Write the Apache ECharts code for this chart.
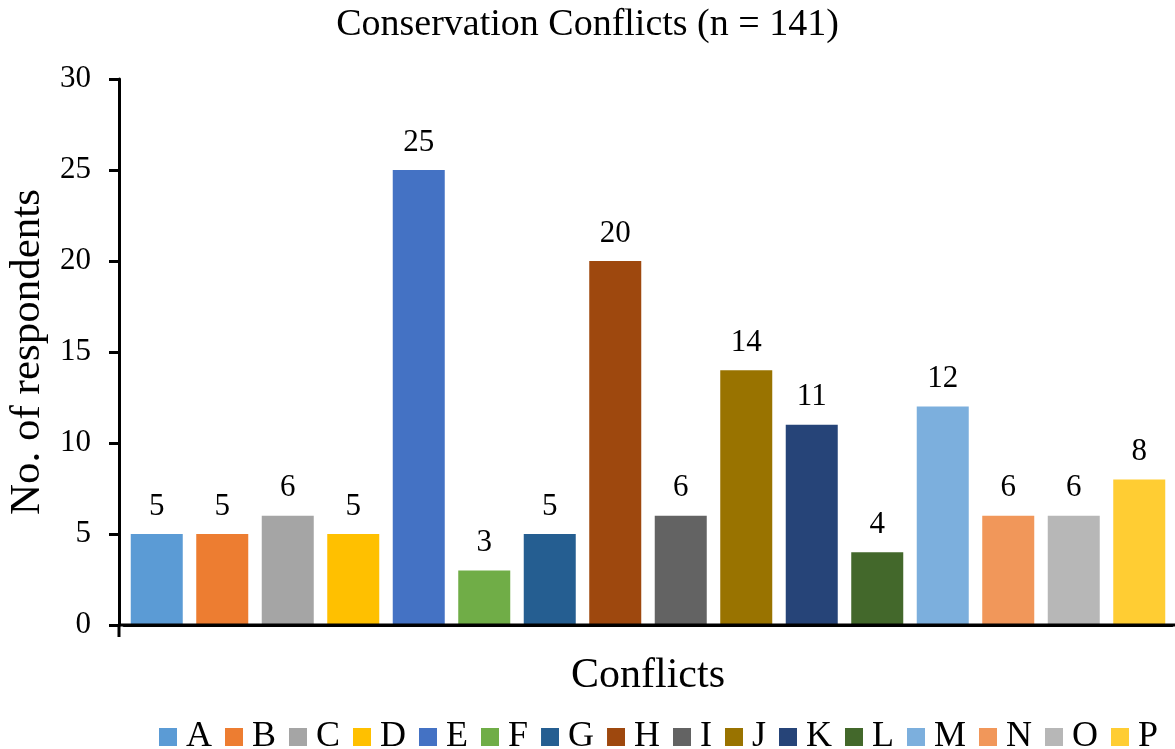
<!DOCTYPE html>
<html>
<head>
<meta charset="utf-8">
<script src="https://cdn.jsdelivr.net/npm/echarts@6/dist/echarts.min.js"></script>
<style>
  html, body { margin: 0; padding: 0; background: #fff; }
  #chart { width: 1175px; height: 749px; }
</style>
</head>
<body>
<div id="chart"></div>
<script>
// Conflict categories and the number of respondents citing each
const categories = ['A', 'B', 'C', 'D', 'E', 'F', 'G', 'H', 'I', 'J', 'K', 'L', 'M', 'N', 'O', 'P'];
const respondents = [5, 5, 6, 5, 25, 3, 5, 20, 6, 14, 11, 4, 12, 6, 6, 8];
const barColors = [
  '#5B9BD5', '#ED7D31', '#A5A5A5', '#FFC000', '#4472C4', '#70AD47', '#255E91', '#9E480E',
  '#636363', '#997300', '#264478', '#43682B', '#7CAFDD', '#F1975A', '#B7B7B7', '#FFCD33'
];
const yTicks = [0, 5, 10, 15, 20, 25, 30];

const serif = '"Liberation Serif", "Times New Roman", serif';

// One series per conflict so each gets its own legend entry; a shared stack keeps them in one slot per category
const series = categories.map((name, i) => ({
  name: name,
  type: 'bar',
  stack: 'all',
  barCategoryGap: '20.6%',
  itemStyle: { color: barColors[i] },
  label: {
    show: true,
    position: 'top',
    distance: 12,
    fontFamily: serif,
    fontSize: 31,
    color: '#000'
  },
  data: categories.map((c, j) => (j === i ? respondents[i] : null))
}));

const chart = echarts.init(document.getElementById('chart'), null, { renderer: 'canvas' });

chart.setOption({
  animation: false,
  backgroundColor: '#fff',
  textStyle: { fontFamily: serif, color: '#000' },
  title: {
    text: 'Conservation Conflicts (n = 141)',
    left: 'center',
    top: 1,
    textStyle: { fontFamily: serif, fontSize: 38, fontWeight: 'normal', color: '#000' }
  },
  legend: {
    top: 719,
    left: 159,
    padding: 0,
    itemWidth: 18,
    itemHeight: 18,
    itemGap: 13,
    icon: 'rect',
    textStyle: { fontFamily: serif, fontSize: 36, color: '#000', padding: [0, 0, 0, 4] },
    data: categories
  },
  grid: { left: 124, right: 3, top: 79, bottom: 124, containLabel: false, outerBoundsMode: 'none' },
  xAxis: {
    type: 'category',
    data: categories,
    name: 'Conflicts',
    nameLocation: 'middle',
    nameGap: 30,
    nameTextStyle: { fontFamily: serif, fontSize: 42, color: '#000' },
    axisLine: { show: true, lineStyle: { color: '#000', width: 3 } },
    axisTick: { show: false },
    axisLabel: { show: false },
    splitLine: { show: false }
  },
  yAxis: {
    type: 'value',
    min: yTicks[0],
    max: yTicks[yTicks.length - 1],
    interval: 5,
    offset: 5,
    name: 'No. of respondents',
    nameLocation: 'middle',
    nameGap: 67,
    nameTextStyle: { fontFamily: serif, fontSize: 43, color: '#000' },
    axisLine: { show: true, lineStyle: { color: '#000', width: 3 } },
    axisTick: { show: true, inside: false, length: 10, lineStyle: { color: '#000', width: 3 } },
    axisLabel: { fontFamily: serif, fontSize: 31, color: '#000', margin: 28 },
    splitLine: { show: false }
  },
  series: series
});

// Extend the baseline to the left axis and the right edge, plus the short drop of the left axis below zero
const zeroY = chart.convertToPixel({ yAxisIndex: 0 }, 0);
const xAxisObj = chart.getModel().getComponent('xAxis', 0).axis;
const axisX = chart.convertToPixel({ xAxisIndex: 0 }, categories[0]) - xAxisObj.getBandWidth() / 2 - 5;
chart.setOption({
  graphic: [
    { type: 'line', shape: { x1: axisX, y1: zeroY, x2: 1175, y2: zeroY }, style: { stroke: '#000', lineWidth: 3 }, z: 10 },
    { type: 'line', shape: { x1: axisX, y1: zeroY, x2: axisX, y2: zeroY + 12 }, style: { stroke: '#000', lineWidth: 3 }, z: 10 }
  ]
});
</script>
</body>
</html>
